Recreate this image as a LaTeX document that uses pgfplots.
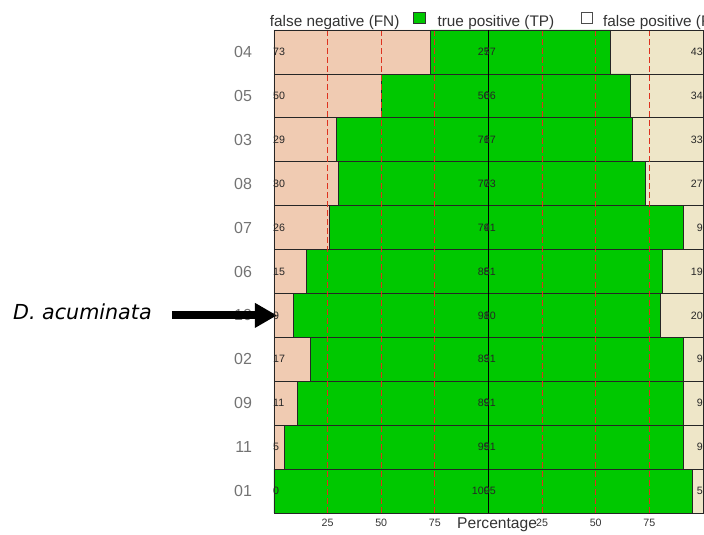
\documentclass[border=0pt]{standalone}
\usepackage{fontspec}
\setmainfont{Liberation Sans}
\newfontfamily\dejavu{DejaVu Sans}
\usepackage{pgfplots}
\usepackage{pgfplotstable}
\pgfplotsset{compat=1.18}
\usetikzlibrary{arrows.meta}
\definecolor{fncol}{RGB}{240,203,178}
\definecolor{tpcol}{RGB}{0,200,0}
\definecolor{fpcol}{RGB}{238,230,200}
\definecolor{gridred}{RGB}{222,50,30}
\pgfplotstableread{
idx fn tp fp tpl tpr
0 0 195 5 100 95
1 5 186 9 95 91
2 11 180 9 89 91
3 17 174 9 83 91
4 9 171 20 91 80
5 15 166 19 85 81
6 26 165 9 74 91
7 30 143 27 70 73
8 29 138 33 71 67
9 50 116 34 50 66
10 73 84 43 27 57
}\data
\begin{document}
\begin{tikzpicture}
\begin{axis}[
  scale only axis, width=321.75pt, height=362.25pt,
  xbar stacked, bar width=1,
  xmin=0, xmax=200, ymin=-0.5, ymax=10.5,
  ytick={0,...,10}, yticklabels={01,11,09,02,10,06,07,08,03,05,04},
  xtick={25,50,75,125,150,175}, xticklabels={25,50,75,25,50,75},
  extra x ticks={100}, extra x tick labels={},
  extra x tick style={grid=major, major grid style={black, solid, line width=1pt}},
  xmajorgrids,
  major grid style={draw=gridred, dash pattern=on 4.5pt off 2.25pt, line width=0.9pt},
  major tick length=0pt,
  axis on top,
  axis line style={black!85, line width=0.7pt},
  /pgf/number format/assume math mode=true,
  y tick label style={font=\fontsize{12}{14}\selectfont, text=black!55, xshift=-13pt},
  x tick label style={font=\fontsize{8}{9}\selectfont, text=black!80, yshift=-1pt},
  xlabel={Percentage},
  x label style={at={(axis description cs:0.52,0)}, anchor=center, yshift=-9pt, font=\fontsize{11.7}{13}\selectfont, text=black!80},
  clip=false,
  legend style={at={(axis cs:-1.9,10.5)}, anchor=west, yshift=7.5pt, draw=none, fill=none,
    inner sep=0pt, outer sep=0pt, font=\fontsize{11.5}{13}\selectfont, text=black!80,
    legend columns=-1, nodes={inner sep=0pt},
    /tikz/column 1/.style={column sep=0pt},
    /tikz/column 2/.style={column sep=10.5pt},
    /tikz/column 3/.style={column sep=9pt},
    /tikz/column 4/.style={column sep=20pt},
    /tikz/column 5/.style={column sep=7.5pt}},
]
\addplot[fill=fncol, draw=black!85, line width=0.6pt, forget plot] table[x=fn, y=idx] {\data};
\addplot[fill=tpcol, draw=black!85, line width=0.6pt, forget plot] table[x=tp, y=idx] {\data};
\addplot[fill=fpcol, draw=black!85, line width=0.6pt, forget plot] table[x=fp, y=idx] {\data};
\addlegendimage{legend image code/.code={}}
\addlegendentry{false negative (FN)}
\addlegendimage{legend image code/.code={\draw[fill=tpcol, draw=black!80, line width=0.6pt] (0pt,-1pt) rectangle (8.5pt,7.5pt);}}
\addlegendentry{true positive (TP)}
\addlegendimage{legend image code/.code={\draw[fill=white, draw=black!70, line width=0.6pt] (0pt,-1pt) rectangle (8.5pt,7.5pt);}}
\addlegendentry{false positive (FP)}
\coordinate (SW) at (rel axis cs:0,0);
\coordinate (NE) at (rel axis cs:1,1);
\end{axis}
\begin{axis}[
  scale only axis, width=321.75pt, height=362.25pt,
  xmin=0, xmax=200, ymin=-0.5, ymax=10.5,
  hide axis, clip=false,
  point meta=explicit symbolic,
]
\addplot[only marks, mark=none, nodes near coords,
  nodes near coords style={anchor=west, inner sep=0pt, font=\fontsize{8}{9}\selectfont, text=black!85}]
  table[x expr=-0.5, y=idx, meta=fn] {\data};
\addplot[only marks, mark=none, nodes near coords,
  nodes near coords style={anchor=east, inner sep=0pt, font=\fontsize{8}{9}\selectfont, text=black!85}]
  table[x expr=100.7, y=idx, meta=tpl] {\data};
\addplot[only marks, mark=none, nodes near coords,
  nodes near coords style={anchor=west, inner sep=0pt, font=\fontsize{8}{9}\selectfont, text=black!85}]
  table[x expr=97.7, y=idx, meta=tpr] {\data};
\addplot[only marks, mark=none, nodes near coords,
  nodes near coords style={anchor=east, inner sep=0pt, font=\fontsize{8}{9}\selectfont, text=black!85}]
  table[x expr=200, y=idx, meta=fp] {\data};
\draw[line width=6pt, -{Triangle[length=16.5pt, width=17.5pt]}] (axis cs:-47.6,4) -- (axis cs:1.4,4);
\node[anchor=east, inner sep=0pt, font=\dejavu\itshape\fontsize{15.5}{17}\selectfont] at (axis cs:-56.9,4.09) {D. acuminata};
\end{axis}
\pgfresetboundingbox
\path[use as bounding box] ([xshift=-205.5pt,yshift=-16.5pt]SW) rectangle ([xshift=0.75pt,yshift=22.5pt]NE);
\end{tikzpicture}
\end{document}
